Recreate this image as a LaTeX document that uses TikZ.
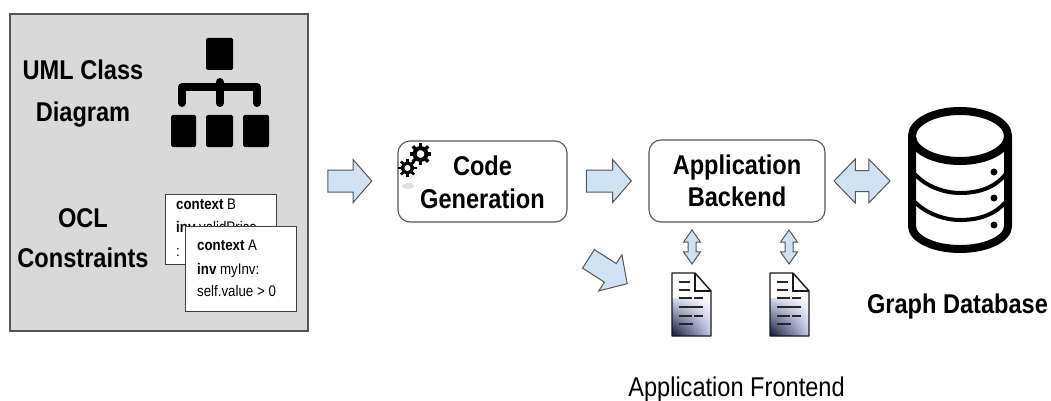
\documentclass[tikz,border=0pt]{standalone}
\usepackage{fontspec}
\setmainfont{Liberation Sans}
\usetikzlibrary{shapes.arrows,shadings}
\definecolor{panel}{HTML}{D9D9D9}
\definecolor{arrowfill}{HTML}{CFE2F3}
\definecolor{edge}{HTML}{555555}
\definecolor{navy}{HTML}{0B1238}
\definecolor{docmid}{HTML}{C4C8EC}
\definecolor{docpale}{HTML}{D5D8F0}
\tikzset{
  lab/.style={yscale=1.15,transform shape,align=center,inner sep=0pt,font=\fontsize{23.6}{#1}\selectfont\bfseries},
  lab/.default=31,
  code/.style={yscale=1.15,transform shape,anchor=base west,inner sep=0pt,font=\fontsize{13.3}{15}\selectfont},
  card/.style={draw=black!75,fill=white,line width=.9pt},
  box/.style={draw=edge,fill=white,rounded corners=12pt,line width=1.1pt},
  block/.style={single arrow,draw=edge,fill=arrowfill,line width=1pt,inner xsep=0pt,inner ysep=10.5pt,
    single arrow head extend=10.5pt,single arrow head indent=0pt,minimum width=0pt},
  dblock/.style={double arrow,draw=edge,fill=arrowfill,line width=1pt,inner xsep=0pt,
    double arrow head indent=0pt,minimum width=0pt},
  org/.style={fill=black,rounded corners=1.5pt},
  bar/.style={draw=black,line width=8pt,line join=round,line cap=round},
  docline/.style={draw=black!85,line width=1.3pt},
}
\newcommand{\docicon}[1]{%
  \begin{scope}[shift={(#1,0)}]
    \begin{scope}
      \clip (672,273) -- (695,273) -- (711,291) -- (711,336) -- (672,336) -- cycle;
      \fill[white] (672,273) rectangle (711,336);
      \shade[lower left=navy,lower right=docmid,upper left=docpale,upper right=white] (672,298) rectangle (711,336);
    \end{scope}
    \draw[black!90,line width=1.4pt,line join=round] (672,273) -- (695,273) -- (711,291) -- (711,336) -- (672,336) -- cycle;
    \draw[black!90,line width=1.2pt] (695,273) -- (695,291) -- (711,291);
    \draw[docline] (679,282) -- (690,282);
    \draw[docline] (679,290) -- (690,290);
    \draw[docline] (679,298) -- (692,298) (694,298) -- (703,298);
    \draw[docline] (679,307) -- (703,307);
    \draw[docline] (679,316) -- (692,316) (694,316) -- (703,316);
    \draw[docline] (679,324) -- (693,324);
  \end{scope}}
\newcommand{\gearicon}[3]{%
  \draw[black,line width=#3*0.42pt] (#1,#2) circle[radius=#3*0.62pt];
  \foreach \a in {0,45,...,315}{\draw[black,line width=#3*0.34pt] (#1,#2) ++(\a:#3*0.7pt) -- ++(\a:#3*0.45pt);}}
\begin{document}
\begin{tikzpicture}[x=1pt,y=-1pt]
\useasboundingbox (0,0) rectangle (1051,401);
% left panel
\draw[draw=edge,fill=panel,line width=1.1pt] (10,14) rectangle (308,331);
\node[lab=36.5] (uml) at (83,93.5) {UML Class\\Diagram};
\node[lab=35] (ocl) at (83,238) {OCL\\Constraints};
% org chart icon
\fill[org] (206,38) rectangle (233,70);
\fill[org] (171,115) rectangle (196,147);
\fill[org] (206,115) rectangle (233,147);
\fill[org] (243,115) rectangle (269,147);
\draw[bar,line join=round] (182,103) -- (182,87.5) -- (257,87.5) -- (257,103);
\draw[bar] (219.5,82) -- (219.5,103);
% OCL cards
\draw[card] (165,194) rectangle (276,264);
\node[code] (b1) at (176,209) {\textbf{context} B};
\node[code] (b2) at (176,232) {\textbf{inv} validPrice};
\node[code] (b3) at (176,256) {:};
\draw[card] (185,226) rectangle (296,311);
\node[code] (a1) at (197,250) {\textbf{context} A};
\node[code] (a2) at (197,274) {\textbf{inv} myInv:};
\node[code] (a3) at (197,296) {self.value > 0};
% arrows
\node[block,minimum height=44pt,single arrow tip angle=98] (ar1) at (345,181) {};
\node[block,minimum height=45pt,single arrow tip angle=98] (ar2) at (604,181) {};
\node[block,minimum height=46pt,single arrow tip angle=94,rotate=-32.6] (ar3) at (603.5,268.5) {};
% code generation
\node[box,minimum width=169pt,minimum height=81pt,inner sep=0pt] (gen) at (482.5,181.5) {};
\node[lab=28.7] (gent) at (482.5,182.5) {Code\\Generation};
\gearicon{420.5}{154}{9.5}
\gearicon{407.5}{168}{8}
\fill[black!12] (408,186) ellipse[x radius=6pt,y radius=3pt];
% backend
\node[box,minimum width=176pt,minimum height=82pt,inner sep=0pt] (back) at (737,181) {};
\node[lab=27.8] (backt) at (737,181) {Application\\Backend};
\node[dblock,inner ysep=10pt,minimum height=56pt,double arrow head extend=11.5pt,double arrow tip angle=92] (ar4) at (862,181) {};
\node[dblock,inner ysep=3.5pt,minimum height=34pt,double arrow head extend=4.5pt,double arrow tip angle=70,rotate=90] (ar5) at (692,247) {};
\node[dblock,inner ysep=3.5pt,minimum height=34pt,double arrow head extend=4.5pt,double arrow tip angle=70,rotate=90] (ar6) at (789,247) {};
\docicon{0}
\docicon{98}
% database
\begin{scope}[line cap=round]
  \draw[black,line width=8pt] (912,137) -- (912,226) arc[start angle=180,end angle=360,x radius=48pt,y radius=23pt] -- (1008,137);
  \draw[black,line width=8pt] (960,136) ellipse[x radius=48pt,y radius=25pt];
  \draw[black,line width=4pt] (912,171) .. controls (925,187) and (945,193) .. (960,193) .. controls (980,193) and (997,187) .. (1008,171);
  \draw[black,line width=4pt] (912,199) .. controls (925,214) and (945,220) .. (960,220) .. controls (980,220) and (997,214) .. (1008,199);
\end{scope}
\fill[black] (994,172) circle[radius=3.5pt] (994,198) circle[radius=3.5pt] (994,225) circle[radius=3.5pt];
\node[lab] (db) at (957.5,306.5) {Graph Database};
\node[lab,font=\fontsize{23.6}{28}\selectfont\mdseries] (front) at (736.5,389.5) {Application Frontend};
\end{tikzpicture}
\end{document}
